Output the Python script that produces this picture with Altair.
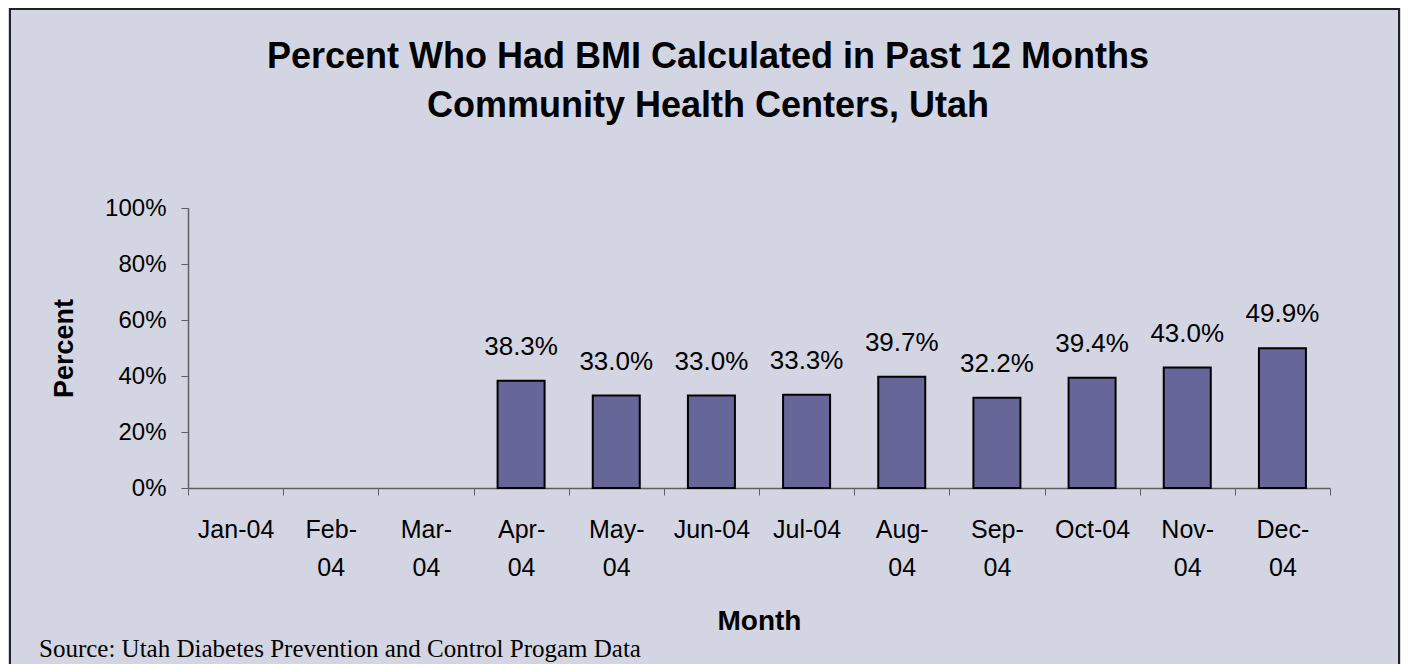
import json
import altair as alt
import pandas as pd

# ---- data ----
months = ["Jan-04", "Feb-04", "Mar-04", "Apr-04", "May-04", "Jun-04",
          "Jul-04", "Aug-04", "Sep-04", "Oct-04", "Nov-04", "Dec-04"]
tick_labels = ["Jan-04", "Feb-|04", "Mar-|04", "Apr-|04", "May-|04", "Jun-04",
               "Jul-04", "Aug-|04", "Sep-|04", "Oct-04", "Nov-|04", "Dec-|04"]
percent = [None, None, None, 38.3, 33.0, 33.0, 33.3, 39.7, 32.2, 39.4, 43.0, 49.9]
y_ticks = [0, 20, 40, 60, 80, 100]
title_lines = ["Percent Who Had BMI Calculated in Past 12 Months",
               "Community Health Centers, Utah"]
source_note = ["Source: Utah Diabetes Prevention and Control Progam Data"]

df = pd.DataFrame({"month": months, "pct": percent})

FONT = "Liberation Sans"
BG = "#D3D6E2"
AXIS_GRAY = "#5f5f5f"

label_map = json.dumps(dict(zip(months, tick_labels)))
x_label_expr = (
    "indexof(" + json.dumps(months) + ", datum.value) >= 0 ? split("
    + label_map + "[datum.value], '|') : ''"
)

x_enc = alt.X(
    "month:N",
    sort=months,
    scale=alt.Scale(paddingInner=0, paddingOuter=0),
    axis=alt.Axis(
        labelExpr=x_label_expr,
        labelAngle=0,
        labelFont=FONT,
        labelFontSize=25,
        labelLineHeight=38,
        labelPadding=22,
        labelColor="black",
        labelOverlap=False,
        tickSize=7,
        tickBand="extent",
        tickColor=AXIS_GRAY,
        domainColor=AXIS_GRAY,
        domainWidth=1.5,
        grid=False,
        title="Month",
        titleFont=FONT,
        titleFontSize=28,
        titleFontWeight="bold",
        titleColor="black",
        titleX=571,
        titleY=141,
        titleBaseline="alphabetic",
        titleAlign="center",
    ),
)

y_enc = alt.Y(
    "pct:Q",
    scale=alt.Scale(domain=[0, 100]),
    axis=alt.Axis(
        values=y_ticks,
        labelExpr="datum.value + '%'",
        labelFont=FONT,
        labelFontSize=24,
        labelPadding=15,
        labelColor="black",
        tickSize=7,
        tickColor=AXIS_GRAY,
        domainColor=AXIS_GRAY,
        domainWidth=1.5,
        grid=False,
        title="Percent",
        titleFont=FONT,
        titleFontSize=27,
        titleFontWeight="bold",
        titleColor="black",
        titleAngle=-90,
        titleX=-116,
        titleY=140,
        titleBaseline="alphabetic",
        titleAlign="center",
    ),
)

base = alt.Chart(df)

bars = base.mark_bar(size=47, color="#666699", stroke="black", strokeWidth=2).encode(
    x=x_enc, y=y_enc
)

labels = (
    base.transform_filter("isValid(datum.pct)")
    .transform_calculate(label="format(datum.pct, '.1f') + '%'")
    .mark_text(dy=-26, baseline="alphabetic", font=FONT, fontSize=26, color="black")
    .encode(x=x_enc, y=y_enc, text="label:N")
)

border = alt.Chart(pd.DataFrame({"k": [0]})).mark_rect(
    fillOpacity=0, stroke="#222222", strokeWidth=2
).encode(
    x=alt.value(-178), x2=alt.value(1211), y=alt.value(-199), y2=alt.value(480)
)

title1 = alt.Chart(pd.DataFrame({"t": title_lines[:1]})).mark_text(
    align="center", baseline="alphabetic", font=FONT, fontSize=36,
    fontWeight="bold", color="black"
).encode(x=alt.value(520), y=alt.value(-140), text="t:N")

title2 = alt.Chart(pd.DataFrame({"t": title_lines[1:]})).mark_text(
    align="center", baseline="alphabetic", font=FONT, fontSize=36,
    fontWeight="bold", color="black"
).encode(x=alt.value(520), y=alt.value(-91), text="t:N")

source = alt.Chart(pd.DataFrame({"t": source_note})).mark_text(
    align="left", baseline="alphabetic", font="Liberation Serif", fontSize=25, color="black"
).encode(x=alt.value(-149), y=alt.value(449), text="t:N")

chart = (
    alt.layer(border, bars, labels, title1, title2, source)
    .properties(
        width=1142,
        height=280,
        autosize=alt.AutoSizeParams(type="none"),
        padding={"left": 180, "top": 200, "right": 71, "bottom": 176},
        background=BG,
    )
    .configure_view(stroke=None)
)

chart.save("out.html", embed_options={"renderer": "svg", "actions": False})
